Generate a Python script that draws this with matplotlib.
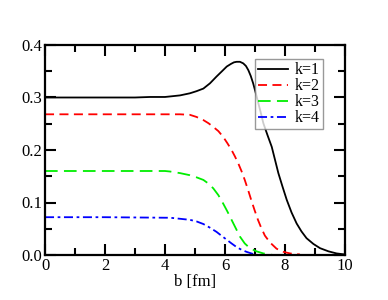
import numpy as np
import matplotlib
matplotlib.use('Agg')
import matplotlib.pyplot as plt
from matplotlib.ticker import MultipleLocator, FormatStrFormatter

# values
b_k1 = [0.0, 1.0, 2.0, 3.0, 3.5, 4.0, 4.17, 4.5, 4.83, 5.05, 5.28, 5.5, 5.72, 5.9,
        6.06, 6.2, 6.3, 6.39, 6.5, 6.61, 6.7, 6.78, 6.86, 6.94, 7.02, 7.1, 7.19,
        7.28, 7.42, 7.56, 7.67, 7.78, 7.92, 8.06, 8.22, 8.39, 8.55, 8.72, 8.95,
        9.17, 9.45, 9.72, 10.0]
k1 = [0.300, 0.300, 0.300, 0.300, 0.301, 0.301, 0.302, 0.304, 0.308, 0.312, 0.317,
      0.327, 0.340, 0.350, 0.359, 0.364, 0.367, 0.368, 0.368, 0.365, 0.360, 0.352,
      0.341, 0.327, 0.310, 0.292, 0.272, 0.251, 0.228, 0.206, 0.181, 0.156, 0.130,
      0.105, 0.081, 0.060, 0.045, 0.032, 0.021, 0.013, 0.007, 0.003, 0.001]

b_k2 = [0.0, 2.0, 4.0, 4.17, 4.5, 4.83, 5.05, 5.28, 5.45, 5.61, 5.78, 5.94, 6.08,
        6.22, 6.33, 6.44, 6.55, 6.66, 6.77, 6.88, 6.99, 7.1, 7.2, 7.33, 7.5, 7.72,
        7.95, 8.17, 8.5]
k2 = [0.268, 0.268, 0.268, 0.268, 0.268, 0.267, 0.263, 0.257, 0.251, 0.244, 0.236,
      0.225, 0.213, 0.200, 0.188, 0.175, 0.160, 0.143, 0.124, 0.104, 0.085, 0.067,
      0.053, 0.037, 0.024, 0.012, 0.006, 0.003, 0.001]

b_k3 = [0.0, 2.0, 4.0, 4.17, 4.5, 4.83, 5.05, 5.28, 5.45, 5.61, 5.78, 5.94, 6.08,
        6.22, 6.36, 6.5, 6.66, 6.83, 7.05, 7.28, 7.6]
k3 = [0.160, 0.160, 0.160, 0.159, 0.156, 0.152, 0.148, 0.143, 0.136, 0.127, 0.114,
      0.098, 0.083, 0.067, 0.051, 0.035, 0.022, 0.013, 0.007, 0.003, 0.0]

b_k4 = [0.0, 2.0, 4.0, 4.17, 4.5, 4.83, 5.05, 5.28, 5.5, 5.72, 5.9, 6.06, 6.22,
        6.39, 6.55, 6.72, 6.88, 7.05]
k4 = [0.072, 0.072, 0.071, 0.071, 0.069, 0.067, 0.064, 0.059, 0.052, 0.044, 0.036,
      0.029, 0.022, 0.015, 0.010, 0.006, 0.003, 0.0]

labels = ['k=1', 'k=2', 'k=3', 'k=4']

plt.rcParams['font.family'] = 'Liberation Serif'
plt.rcParams['font.size'] = 12

fig = plt.figure(figsize=(3.88, 3.0), dpi=100)
ax = fig.add_axes([0.116, 0.15, 0.773, 0.70])

ax.plot(b_k1, k1, color='black', lw=1.3, label=labels[0])
ax.plot(b_k2, k2, color='red', lw=1.3, dashes=(5, 3), label=labels[1])
ax.plot(b_k3, k3, color='#00ee00', lw=1.3, dashes=(7, 3.5), label=labels[2])
ax.plot(b_k4, k4, color='blue', lw=1.3, dashes=(5, 2, 1.5, 2), label=labels[3])

ax.set_xlim(0, 10)
ax.set_ylim(0, 0.4)
ax.xaxis.set_major_locator(MultipleLocator(2))
ax.xaxis.set_minor_locator(MultipleLocator(1))
ax.yaxis.set_major_locator(MultipleLocator(0.1))
ax.yaxis.set_minor_locator(MultipleLocator(0.05))
ax.yaxis.set_major_formatter(FormatStrFormatter('%.1f'))
ax.tick_params(which='both', direction='in', top=True, right=True, width=1.5)
ax.tick_params(which='major', length=8, pad=2)
ax.tick_params(which='minor', length=5)
for s in ax.spines.values():
    s.set_linewidth(1.6)

ax.set_xlabel('b [fm]', labelpad=0)

leg = ax.legend(loc='upper right', bbox_to_anchor=(0.927, 0.933), frameon=True,
                fancybox=False, edgecolor='gray', handlelength=1.9,
                borderpad=0.2, labelspacing=0.0, handletextpad=0.4,
                borderaxespad=0, prop={'family': 'Liberation Serif', 'size': 11.5})
leg.get_frame().set_linewidth(1.0)

fig.savefig('out.png', dpi=100)
